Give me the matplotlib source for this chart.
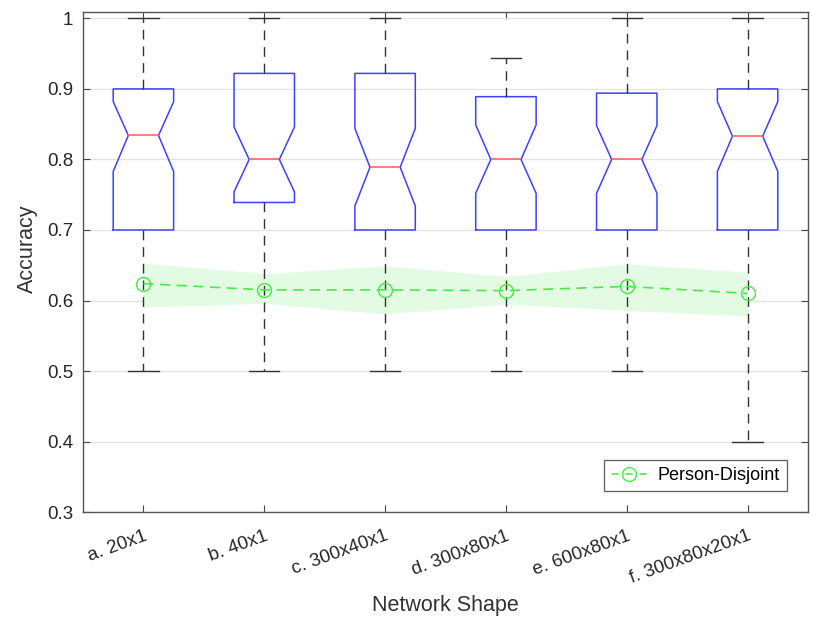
import matplotlib.pyplot as plt
from matplotlib.lines import Line2D
import numpy as np

plt.rcParams['font.family'] = ['Liberation Sans', 'DejaVu Sans']

# DATA
shapes = ['a. 20x1', 'b. 40x1', 'c. 300x40x1', 'd. 300x80x1', 'e. 600x80x1', 'f. 300x80x20x1']
whis_lo = [0.5, 0.5, 0.5, 0.5, 0.5, 0.4]
q1 = [0.7, 0.739, 0.7, 0.7, 0.7, 0.7]
med = [0.834, 0.8, 0.789, 0.8, 0.8, 0.833]
q3 = [0.9, 0.922, 0.922, 0.889, 0.894, 0.9]
whis_hi = [1.0, 1.0, 1.0, 0.944, 1.0, 1.0]
ci_lo = [0.783, 0.754, 0.734, 0.752, 0.752, 0.783]
ci_hi = [0.882, 0.846, 0.844, 0.849, 0.848, 0.882]

disjoint_mean = [0.624, 0.615, 0.615, 0.614, 0.620, 0.610]
disjoint_hi = [0.653, 0.638, 0.649, 0.634, 0.652, 0.640]
disjoint_lo = [0.591, 0.596, 0.581, 0.595, 0.586, 0.578]

stats = []
for i in range(len(shapes)):
    stats.append({'whislo': whis_lo[i], 'q1': q1[i], 'med': med[i], 'q3': q3[i],
                  'whishi': whis_hi[i], 'cilo': ci_lo[i], 'cihi': ci_hi[i], 'fliers': []})

fig = plt.figure(figsize=(8.3, 6.23), dpi=100)
ax = fig.add_axes([0.1, 0.178, 0.8735, 0.8027])

pos = np.arange(1, len(shapes) + 1)
ax.fill_between(pos, disjoint_lo, disjoint_hi, color='#e2fbe2', lw=0, zorder=1)

ax.bxp(stats, positions=pos, widths=0.5, capwidths=0.25, shownotches=True, showfliers=False,
       boxprops=dict(color='#4040ff', lw=1.1),
       medianprops=dict(color='#ff5a5a', lw=1.1),
       whiskerprops=dict(color='#333333', lw=1.0, linestyle=(0, (7, 5))),
       capprops=dict(color='#333333', lw=1.0), manage_ticks=False, zorder=3)

ax.plot(pos, disjoint_mean, '--o', color='#44ee44', mfc='none', ms=10, lw=1.2,
        dashes=(6, 4), zorder=4)

ax.set_xlim(0.5, 6.5)
ax.set_ylim(0.3, 1.009)
ax.set_xticks(pos)
ax.set_xticklabels(shapes, rotation=20, ha='right', rotation_mode='anchor')
ax.set_yticks([0.3, 0.4, 0.5, 0.6, 0.7, 0.8, 0.9, 1.0])
ax.set_yticklabels(['0.3', '0.4', '0.5', '0.6', '0.7', '0.8', '0.9', '1'])
ax.tick_params(direction='in', length=5, labelsize=13.5, colors='#444444', labelcolor='#262626',
               top=True, right=True, pad=7)
ax.tick_params(axis='x', pad=11)
ax.grid(axis='y', color='#e3e3e3', lw=0.9, zorder=0)
ax.set_axisbelow(True)
for s in ax.spines.values():
    s.set_color('#555555')
    s.set_linewidth(1.0)

ax.set_xlabel('Network Shape', fontsize=15.5, color='#333333')
ax.set_ylabel('Accuracy', fontsize=15.5, color='#333333')
ax.xaxis.set_label_coords(0.5, -0.165)
ax.yaxis.set_label_coords(-0.062, 0.526)

# legend proxy: dash - circle with dash through it - dash
proxy = Line2D([], [], color='#44ee44', marker='o', mfc='none', ms=10, lw=1.2,
               linestyle=(7.92, (4.17, 4.17)))
leg = ax.legend([proxy], ['Person-Disjoint'], loc='lower right', fontsize=13, fancybox=False,
                edgecolor='#333333', handlelength=2.0, handletextpad=0.6,
                borderaxespad=1.15, borderpad=0.4)
leg.get_frame().set_linewidth(0.9)

fig.savefig('out.png', dpi=100)
